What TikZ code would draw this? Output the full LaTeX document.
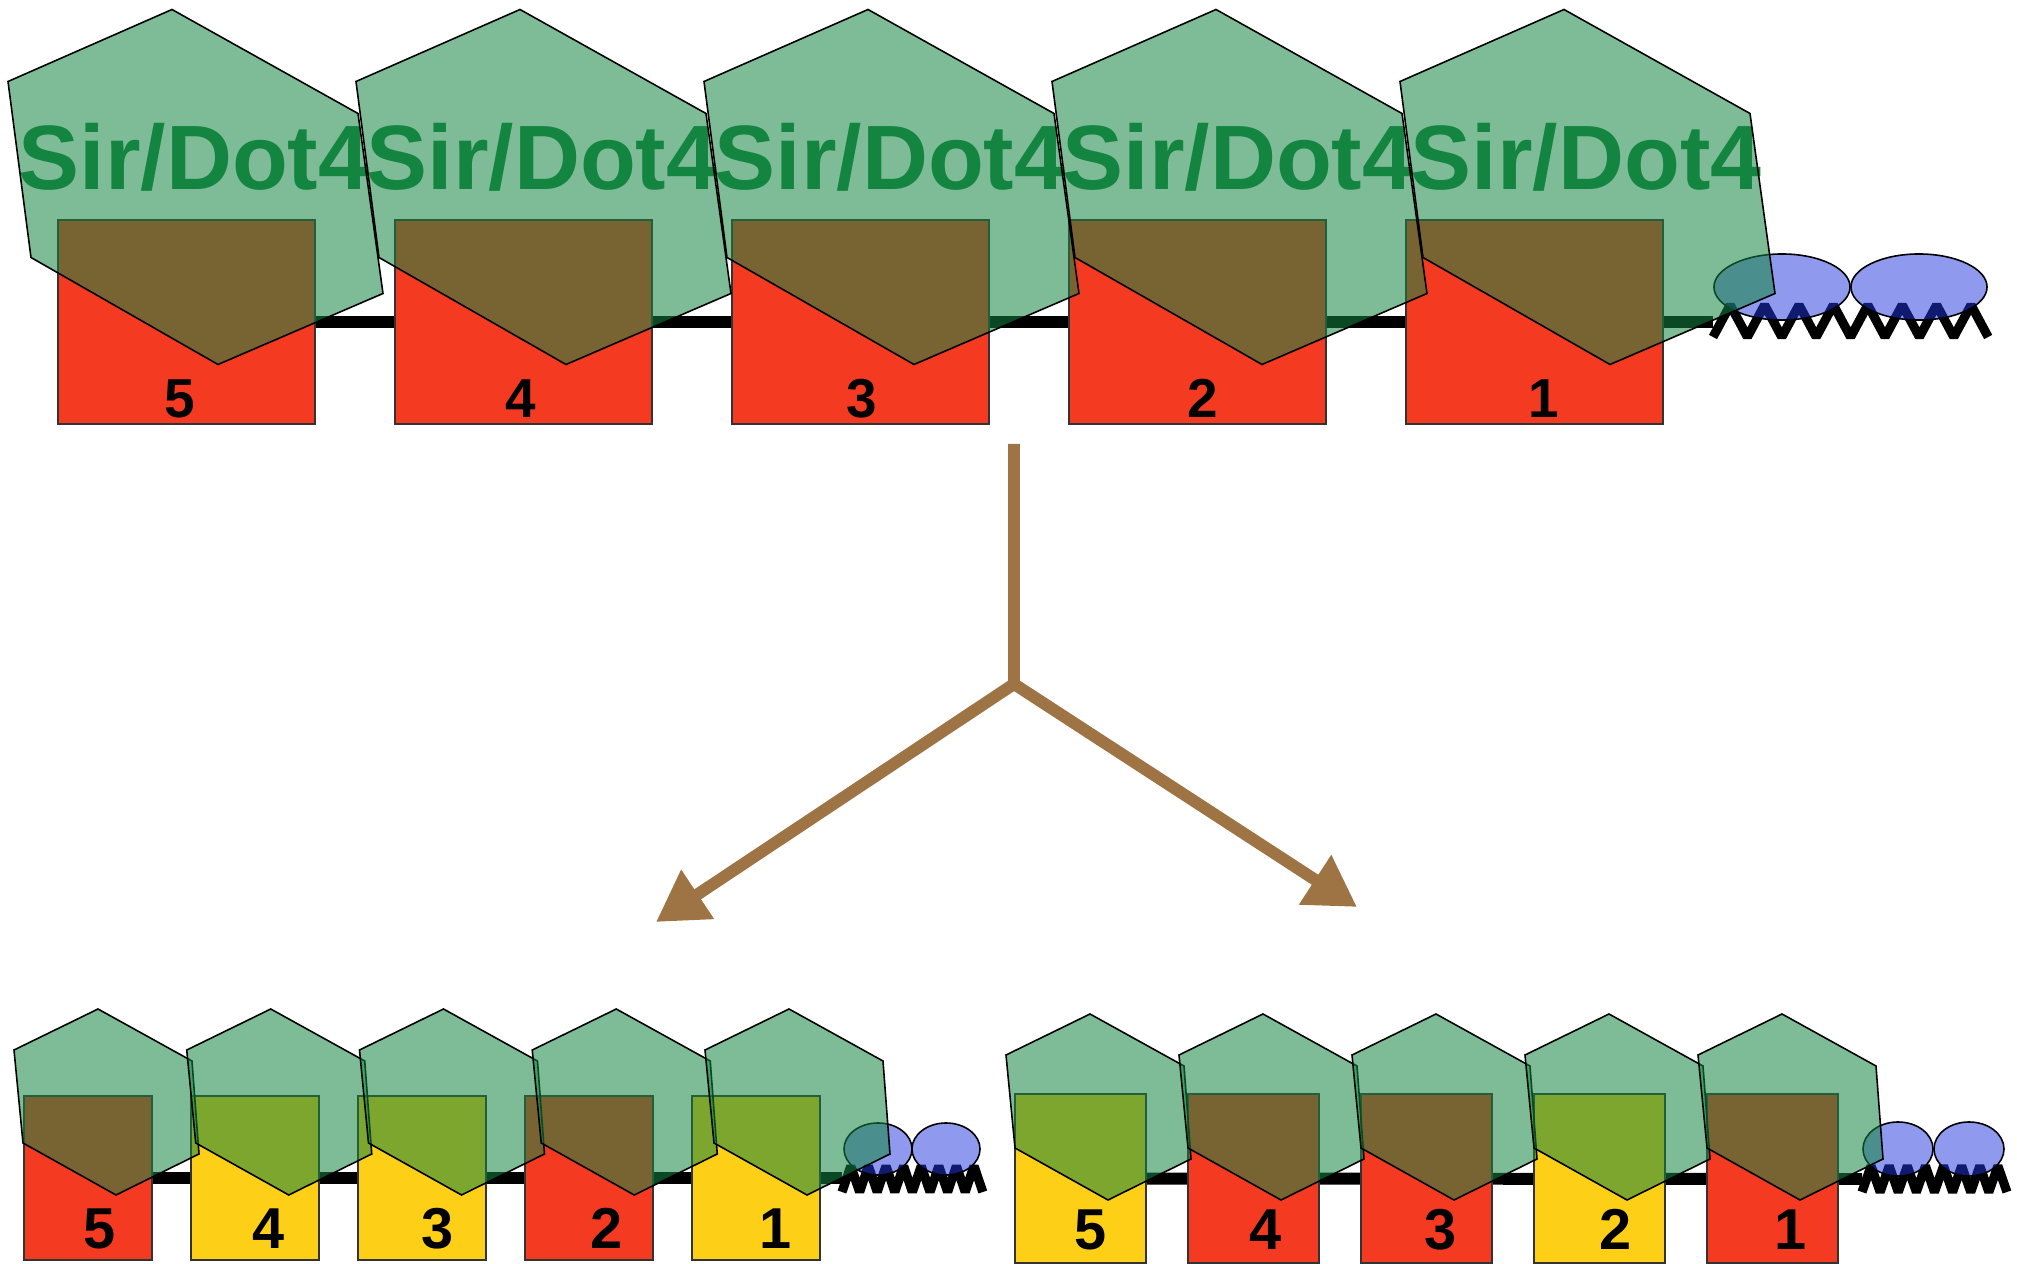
\documentclass[tikz,border=0pt]{standalone}
\usepackage{fontspec}
\setmainfont{Liberation Sans}
\usetikzlibrary{arrows.meta, shapes.geometric, backgrounds}

\definecolor{dotgreen}{RGB}{19,133,64}
\definecolor{nucblue}{RGB}{32,52,222}
\definecolor{offred}{RGB}{245,58,34}
\definecolor{onyellow}{RGB}{253,208,23}
\definecolor{splitbrown}{RGB}{158,116,68}

% one Sir/Dot4 complex sitting on a nucleosome
\newcommand{\bighex}[1]{\draw[hexface, shift={(#1)}] (-23,-177) -- (163,-73) -- (188,107) -- (23,178) -- (-164,71) -- (-187,-105) -- cycle;}
\newcommand{\smallhex}[1]{\draw[hexface, shift={(#1)}] (-9,-93) -- (85,-41) -- (92,52) -- (9,93) -- (-84,41) -- (-93,-52) -- cycle;}

\begin{document}
\begin{tikzpicture}[x=0.01cm, y=-0.01cm,
    hexface/.style={draw=black, line width=0.45pt, fill=dotgreen, fill opacity=0.55},
    nucbox/.style={draw=black!80, line width=0.45pt, inner sep=0pt},
    bigbox/.style={nucbox, minimum width=2.57cm, minimum height=2.04cm},
    leftbox/.style={nucbox, minimum width=1.28cm, minimum height=1.64cm},
    rightbox/.style={nucbox, minimum width=1.31cm, minimum height=1.69cm},
    bignum/.style={anchor=base, inner sep=0pt, font=\fontsize{15.6pt}{16pt}\selectfont\bfseries},
    smallnum/.style={anchor=base, inner sep=0pt, font=\fontsize{16.4pt}{17pt}\selectfont\bfseries},
    tag/.style={anchor=base, inner sep=0pt, text=dotgreen, font=\fontsize{26pt}{28pt}\selectfont\bfseries},
    nuc/.style={ellipse, draw=black, line width=0.45pt, fill=nucblue, fill opacity=0.5, inner sep=0pt},
    strand/.style={line width=3.4pt},
    spring/.style={line width=2.6pt, line join=bevel},
    branch/.style={draw=splitbrown, line width=3.4pt, -{Triangle[length=0.5cm, width=0.56cm]}}]
  \useasboundingbox (0,0) rectangle (2017,1264);

  % Top strand, all nucleosomes bound
  \begin{scope}
    \foreach \n [count=\i from 0] in {5,4,3,2,1} {
      \node[bigbox, fill=offred] (\n a) at (186.5+337*\i, 322) {};
      \node[bignum] (d\n a) at (180+341*\i, 418) {\n};
    }
    \coordinate (za) at (1713,322);
    \begin{scope}[on background layer]
      \draw[strand] (5a) -- (za);
      \draw[spring] (za) ++(0,15) foreach \k in {1,...,8} { -- ++(17.2,-32) -- ++(17.2,32) };
    \end{scope}
    \node[nuc, minimum width=1.36cm, minimum height=0.66cm] (e1a) at (1782,287) {};
    \node[nuc, minimum width=1.36cm, minimum height=0.66cm] (e2a) at (1919,287) {};
    \foreach \n [count=\i from 0] in {5,4,3,2,1}
      \node[tag] (l\n a) at (194+348*\i, 190) {Sir/Dot4};
    \foreach \i in {0,...,4} {
      \bighex{195+348*\i, 186.5}
    }
  \end{scope}

  % Split into two daughter strands
  \coordinate (stem) at (1014,444);
  \coordinate (fork) at (1014,684);
  \coordinate (toleft) at (656,922);
  \coordinate (toright) at (1357,907);
  \draw[branch] (stem) -- (fork) -- (toleft);
  \draw[branch] (fork) -- (toright);

  % Lower left strand
  \begin{scope}
    \foreach \n/\c [count=\i from 0] in {5/offred,4/onyellow,3/onyellow,2/offred,1/onyellow} {
      \node[leftbox, fill=\c] (\n b) at (88+167*\i, 1178) {};
      \node[smallnum] (d\n b) at (100+169*\i, 1248) {\n};
    }
    \coordinate (zb) at (842,1178);
    \begin{scope}[on background layer]
      \draw[strand] (5b) -- (zb);
      \draw[spring] (zb) ++(0,14) foreach \k in {1,...,8} { -- ++(8.8,-26) -- ++(8.8,26) };
    \end{scope}
    \node[nuc, minimum width=0.68cm, minimum height=0.52cm] (e1b) at (878,1149) {};
    \node[nuc, minimum width=0.68cm, minimum height=0.52cm] (e2b) at (946,1149) {};
    \foreach \i in {0,...,4} {
      \smallhex{107+172.75*\i, 1102}
    }
  \end{scope}

  % Lower right strand
  \begin{scope}
    \foreach \n/\c [count=\i from 0] in {5/onyellow,4/offred,3/offred,2/onyellow,1/offred} {
      \node[rightbox, fill=\c] (\n c) at (1080.5+173*\i, 1178.5) {};
      \node[smallnum] (d\n c) at (1091+175*\i, 1249) {\n};
    }
    \coordinate (zc) at (1862,1179);
    \begin{scope}[on background layer]
      \draw[strand] (5c) -- (zc);
      \draw[spring] (zc) ++(0,13) foreach \k in {1,...,8} { -- ++(9.06,-26) -- ++(9.06,26) };
    \end{scope}
    \node[nuc, minimum width=0.70cm, minimum height=0.54cm] (e1c) at (1898,1149) {};
    \node[nuc, minimum width=0.70cm, minimum height=0.54cm] (e2c) at (1969,1149) {};
    \foreach \i in {0,...,4} {
      \smallhex{1099+173*\i, 1107}
    }
  \end{scope}
\end{tikzpicture}
\end{document}
